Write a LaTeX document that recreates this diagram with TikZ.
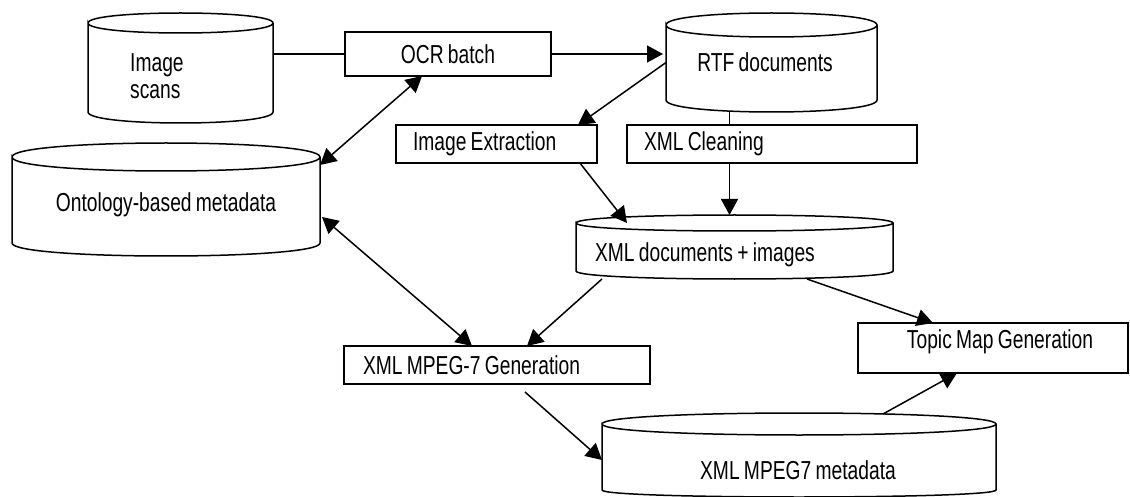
\documentclass[tikz,border=0pt]{standalone}
\usepackage{fontspec}
\setmainfont{Liberation Sans}[FakeStretch=0.74,WordSpace=0.8]
\usetikzlibrary{arrows.meta,calc}
\newcommand\mycyl[7]{% name, x1, x2, ytop, rytop, ybot, rybot
  \node[cylbody, minimum width={(#3-#2)*1pt}, minimum height={(#6-#4)*1pt}] (#1) at ({(#2+#3)/2},{(#4+#6)/2}) {};
  \draw[ln] (#1.north west) .. controls ($(#1.north west)+(0,{-4/3*#5})$) and ($(#1.north east)+(0,{-4/3*#5})$) .. (#1.north east)
     .. controls ($(#1.north east)+(0,{4/3*#5})$) and ($(#1.north west)+(0,{4/3*#5})$) .. (#1.north west)
     -- (#1.south west)
     .. controls ($(#1.south west)+(0,{4/3*#7})$) and ($(#1.south east)+(0,{4/3*#7})$) .. (#1.south east)
     -- (#1.north east);
}
\begin{document}
\begin{tikzpicture}[x=1pt,y=-1pt,
  every node/.style={font=\fontsize{26}{27}\selectfont},
  ln/.style={line width=1.5pt},
  arr/.style={ln,-{Triangle[length=16pt,width=17pt]}},
  dbl/.style={ln,{Triangle[length=16pt,width=17pt]}-{Triangle[length=16pt,width=17pt]}},
  cylbody/.style={draw=none,inner sep=0pt,outer sep=0pt,rectangle},
  box/.style={draw,line width=1.5pt,inner ysep=0pt,outer sep=0pt,rectangle},
  lbl/.style={inner sep=0pt}]
\useasboundingbox[fill=white] (0,0) rectangle (1130,497);

% cylinders
\mycyl{scans}{88}{273}{23}{10}{112}{11}
\mycyl{rtf}{666}{877}{25}{12}{100}{12}
\mycyl{onto}{12}{320}{157}{14}{243}{13}
\mycyl{xmld}{576}{893}{223}{8}{271}{8}
\mycyl{meta}{602}{996}{424}{11}{490}{7}

\node[lbl,align=left,anchor=west] (scans-t) at (130,76.5) {Image\\scans};
\node[lbl] (rtf-t) at (765,62) {RTF documents};
\node[lbl] (onto-t) at (166,205) {Ontology-based metadata};
\node[lbl] (xmld-t) at (705,255) {XML documents + images};
\node[lbl] (meta-t) at (798,470) {XML MPEG7 metadata};

% boxes
\node[box,minimum width=206pt,minimum height=44pt] (ocr) at (448,54) {OCR batch};
\node[box,inner xsep=17pt,minimum height=38pt] (imgx) at (496.5,144) {\makebox[167pt][l]{Image Extraction}};
\node[box,inner xsep=17pt,minimum height=38pt] (xclean) at (772,144) {\makebox[256pt][l]{XML Cleaning}};
\node[box,inner xsep=19pt,minimum height=38pt] (mpg) at (497,365) {\makebox[268pt][l]{XML MPEG-7 Generation}};
\node[box,minimum width=270pt,minimum height=50pt] (topic) at (993,348) {};
\node[lbl] (topic-t) at (1000,342) {Topic Map Generation};

% connectors
\draw[ln] (scans.east |- ocr.west) -- (ocr.west);
\draw[arr] (ocr.east) -- ($(ocr.east -| rtf.west)+(-3,0)$);
\draw[arr] (rtf.west) -- ($(imgx.north west)!0.905!(imgx.north east)$);
\coordinate (cx) at ($(rtf.south)+(-42,0)$);
\draw[ln] ($(cx)+(0,11)$) -- (cx |- xclean.north);
\draw[arr] (cx |- xclean.south) -- ($(cx |- xmld.north)+(0,-8)$);
\draw[arr] ($(imgx.south west)!0.915!(imgx.south east)$) -- ($(xmld.north west)+(51,0)$);
\draw[dbl] ($(ocr.south west)!0.374!(ocr.south east)$) -- ($(onto.north east)+(0,8)$);
\draw[dbl] ($(onto.east)+(2,17)$) -- ($(mpg.north west)+(128,0)$);
\draw[arr] ($(xmld.south west)+(26,8)$) -- ($(mpg.north west)+(183,0)$);
\draw[arr] ($(xmld.south west)+(231,8)$) -- ($(topic.north west)+(75,0)$);
\draw[arr] ($(mpg.south west)+(181,8)$) -- ($(meta.west)+(0,3)$);
\draw[arr] ($(meta.north west)+(281,-10)$) -- ($(topic.south west)+(99,0)$);
\end{tikzpicture}
\end{document}
